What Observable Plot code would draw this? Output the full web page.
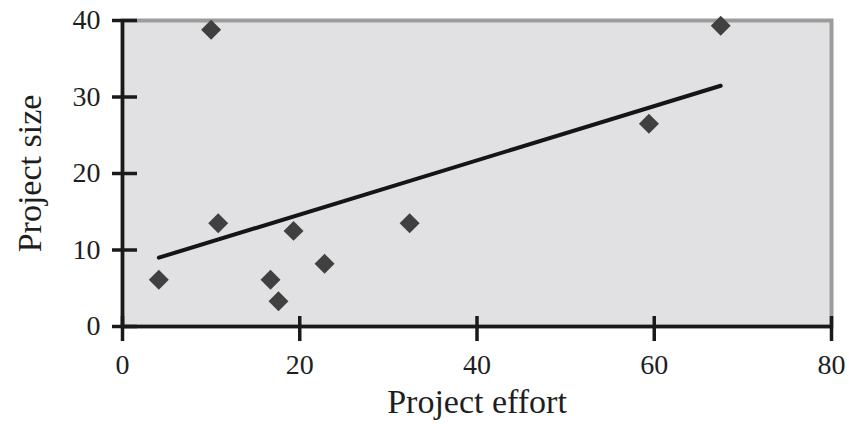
<!DOCTYPE html>
<html>
<head>
<meta charset="utf-8">
<script src="https://cdn.jsdelivr.net/npm/d3@7"></script>
<script src="https://cdn.jsdelivr.net/npm/@observablehq/plot@0.6"></script>
<style>
  html, body { margin: 0; padding: 0; background: #fff; }
</style>
</head>
<body>
<div id="chart"></div>
<script>
// Data
const effort = [4.1, 10.0, 10.8, 16.7, 17.6, 19.3, 22.8, 32.4, 59.4, 67.5];
const size   = [6.1, 38.8, 13.5, 6.1, 3.3, 12.5, 8.2, 13.5, 26.5, 39.3];
const xTicks = [0, 20, 40, 60, 80];
const yTicks = [0, 10, 20, 30, 40];
const xTitle = "Project effort";
const yTitle = "Project size";

const data = effort.map((x, i) => ({x, y: size[i]}));

const W = 849, H = 424;
const mL = 122, mR = 18, mT = 20, mB = 98;
const plotW = W - mL - mR, plotH = H - mT - mB;
const font = "'Liberation Serif', 'DejaVu Serif', serif";

const chart = Plot.plot({
  width: W,
  height: H,
  marginLeft: mL,
  marginRight: mR,
  marginTop: mT,
  marginBottom: mB,
  style: {fontFamily: font, color: "#222", background: "#fff", overflow: "visible"},
  x: {domain: [0, 80]},
  y: {domain: [0, 40]},
  marks: [
    Plot.frame({fill: "#e1e1e3", stroke: "#9c9c9c", strokeWidth: 4}),
    Plot.ruleX([0], {stroke: "#1a1a1a", strokeWidth: 3.5}),
    Plot.ruleY([0], {stroke: "#1a1a1a", strokeWidth: 3.5}),
    Plot.tickX(xTicks, {x: d => d, insetTop: plotH - 10, insetBottom: -15, stroke: "#1a1a1a", strokeWidth: 3.5}),
    Plot.tickY(yTicks, {y: d => d, insetLeft: -10, insetRight: plotW - 15, stroke: "#1a1a1a", strokeWidth: 3.5}),
    Plot.axisX({ticks: xTicks, tickSize: 0, tickPadding: 28, fontSize: 28, label: null, fill: "#1e1e1e"}),
    Plot.axisY({ticks: yTicks, tickSize: 0, tickPadding: 22, fontSize: 28, label: null, fill: "#1e1e1e"}),
    Plot.linearRegressionY(data, {x: "x", y: "y", ci: 0, stroke: "#151515", strokeWidth: 4, strokeLinecap: "round"}),
    Plot.dot(data, {x: "x", y: "y", symbol: "diamond2", r: 9, fill: "#404040", stroke: "none"}),
    Plot.text([xTitle], {text: d => d, frameAnchor: "bottom", textAnchor: "middle", dy: 86, fontSize: 34, fill: "#1e1e1e"}),
    Plot.text([yTitle], {text: d => d, frameAnchor: "left", textAnchor: "middle", lineAnchor: "middle", dx: -92, rotate: -90, fontSize: 34, fill: "#1e1e1e"})
  ]
});

document.getElementById("chart").appendChild(chart);
</script>
</body>
</html>
